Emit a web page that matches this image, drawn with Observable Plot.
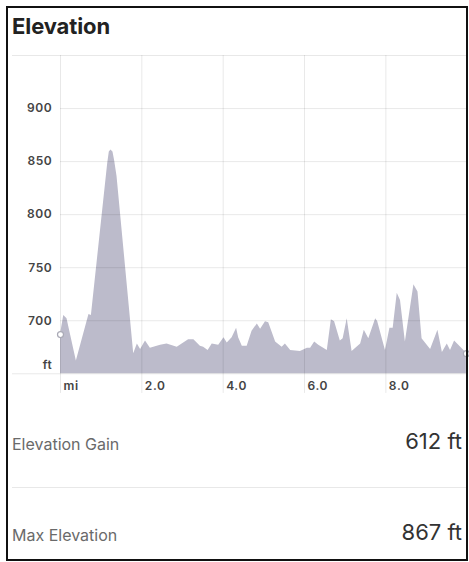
<!DOCTYPE html>
<html>
<head>
<meta charset="utf-8">
<script src="https://cdn.jsdelivr.net/npm/d3@7"></script>
<script src="https://cdn.jsdelivr.net/npm/@observablehq/plot@0.6"></script>
<style>
  html, body { margin: 0; padding: 0; background: #fff; }
  #page { position: relative; width: 469px; height: 562px; overflow: hidden; font-family: Inter, "Noto Sans", sans-serif; }
  #frame { position: absolute; left: 6px; top: 6px; width: 458px; height: 551px; border: 2px solid #111; pointer-events: none; z-index: 5; }
  #title { position: absolute; left: 12px; top: 12px; font-size: 22px; font-weight: 700; color: #222; line-height: 28px; letter-spacing: -0.1px; }
  #chart { position: absolute; left: 0; top: 0; }
  .stat { position: absolute; left: 12px; width: 450px; height: 30px; }
  .stat .lab { position: absolute; left: 0; bottom: 0; font-size: 16px; color: #6a6a6a; line-height: 16px; }
  .stat .val { position: absolute; right: 0; bottom: 0; font-size: 22px; color: #333; line-height: 22px; }
  #sep { position: absolute; left: 12px; width: 456px; top: 487px; height: 1px; background: #e8e8e8; }
</style>
</head>
<body>
<div id="page">
  <div id="title">Elevation</div>
  <div id="chart"></div>
  <div id="stats"></div>
  <div id="sep"></div>
  <div id="frame"></div>
</div>
<script>
// Distance along the route (mi) and elevation (ft)
const miles = [0.00, 0.08, 0.16, 0.39, 0.70, 0.76, 1.16, 1.20, 1.24, 1.29, 1.33, 1.39, 1.80, 1.89, 1.97, 2.09, 2.21, 2.46, 2.62, 2.87, 3.15, 3.28, 3.44, 3.52, 3.63, 3.73, 3.89, 4.02, 4.10, 4.22, 4.33, 4.38, 4.47, 4.59, 4.71, 4.84, 4.92, 5.04, 5.12, 5.29, 5.45, 5.53, 5.66, 5.90, 6.07, 6.15, 6.25, 6.35, 6.56, 6.66, 6.74, 6.88, 6.95, 7.05, 7.17, 7.38, 7.47, 7.58, 7.75, 7.80, 7.99, 8.10, 8.18, 8.28, 8.36, 8.48, 8.69, 8.79, 8.89, 9.10, 9.28, 9.39, 9.51, 9.59, 9.69, 9.92, 9.98];
const elevationFt = [687, 705, 702, 662, 706, 705, 848, 859, 861, 859, 851, 836, 669, 678, 673, 681, 674, 677, 678, 675, 682, 682, 676, 675, 672, 678, 677, 684, 679, 684, 693, 684, 676, 676, 690, 697, 692, 699, 698, 680, 675, 678, 672, 671, 674, 674, 680, 677, 672, 701, 699, 681, 683, 702, 671, 678, 691, 683, 702, 699, 672, 693, 693, 726, 719, 680, 734, 727, 683, 673, 691, 670, 678, 672, 681, 672, 669];

const yTicks = [700, 750, 800, 850, 900];
const xTicks = [0, 2, 4, 6, 8];
const xTickLabels = ["mi", "2.0", "4.0", "6.0", "8.0"];
const yUnit = "ft";

const statLabels = ["Elevation Gain", "Max Elevation"];
const statValues = ["612 ft", "867 ft"];

const profile = miles.map((m, i) => ({mi: m, ft: elevationFt[i]}));
const endpoints = [profile[0], profile[profile.length - 1]];

const chart = Plot.plot({
  width: 469,
  height: 400,
  marginLeft: 60,
  marginRight: 2.3,
  marginTop: 55,
  marginBottom: 26.7,
  x: {domain: [0, 10], axis: null},
  y: {domain: [650, 950], axis: null},
  style: {background: "transparent", overflow: "visible", fontFamily: "Inter, 'Noto Sans', sans-serif"},
  marks: [
    Plot.areaY(profile, {x: "mi", y1: 650, y2: "ft", fill: "#bcbbcb"}),
    Plot.ruleY(yTicks, {x1: 0, x2: 10, stroke: "#000", strokeOpacity: 0.09}),
    Plot.ruleY([950, 650], {x1: -1.18, x2: 10, stroke: "#000", strokeOpacity: 0.09}),
    Plot.ruleX(xTicks, {y1: 950, y2: 631.5, stroke: "#000", strokeOpacity: 0.09}),
    Plot.dot(endpoints, {x: "mi", y: "ft", r: 3, fill: "#fff", stroke: "#a9a9b5", strokeWidth: 1.2}),
    Plot.text(yTicks, {x: -0.2, y: d => d, text: d => String(d), textAnchor: "end", fontSize: 12, fontWeight: 600, fill: "#444"}),
    Plot.text([yUnit], {x: -0.2, y: 650, dy: -9, text: d => d, textAnchor: "end", fontSize: 12, fontWeight: 600, fill: "#444"}),
    Plot.text(xTicks, {x: d => d, y: 650, dy: 12, dx: 3, text: (d, i) => xTickLabels[i], textAnchor: "start", fontSize: 12, fontWeight: 600, fill: "#444"})
  ]
});
chart.querySelectorAll("text").forEach(t => t.style.letterSpacing = "0.6px");
document.getElementById("chart").appendChild(chart);

const stats = document.getElementById("stats");
const statBaselines = [448, 539];
statLabels.forEach((lab, i) => {
  const row = document.createElement("div");
  row.className = "stat";
  row.style.top = (statBaselines[i] - 26) + "px";
  row.innerHTML = `<span class="lab"></span><span class="val"></span>`;
  row.querySelector(".lab").textContent = lab;
  row.querySelector(".val").textContent = statValues[i];
  stats.appendChild(row);
});
</script>
</body>
</html>
